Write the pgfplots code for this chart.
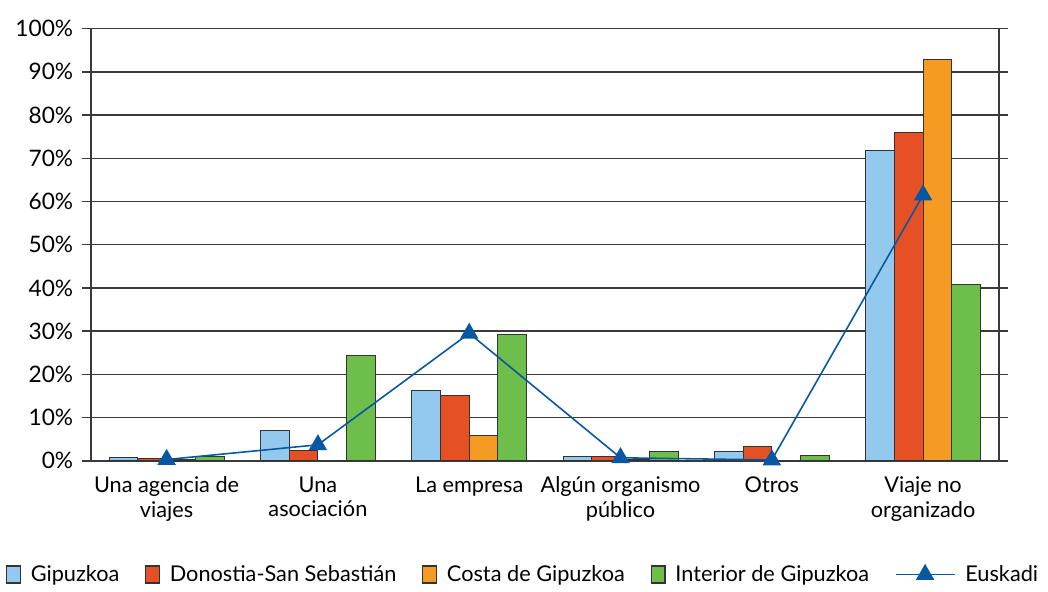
\documentclass[border=0pt]{standalone}
\usepackage{pgfplots}
\pgfplotsset{compat=1.18}
\usepackage{fontspec}
\setmainfont{Lato}

\definecolor{cgip}{HTML}{93C9EE}
\definecolor{cdon}{HTML}{E55125}
\definecolor{ccos}{HTML}{F59B23}
\definecolor{cint}{HTML}{6DBE4B}
\definecolor{ceus}{HTML}{0757A3}
\definecolor{cgrid}{HTML}{3A3A3A}

\pgfplotsset{
  barpatch/.style={legend image code/.code={
    \draw[fill=#1, draw=black!80, line width=0.6pt] (0pt,-4.3pt) rectangle (7pt,4.3pt);}},
}

\begin{document}
\begin{tikzpicture}
\begin{axis}[
    scale only axis,
    width=460pt,
    height=219pt,
    xmin=-0.5, xmax=5.5,
    ymin=0, ymax=100,
    ytick={0,10,...,100},
    yticklabel={\pgfmathprintnumber{\tick}\%},
    /pgf/number format/assume math mode=true,
    xtick={0,1,2,3,4,5},
    xticklabels={Una agencia de\\viajes, Una\\asociación, La empresa, Algún organismo\\público, Otros, Viaje no\\organizado},
    xticklabel style={align=center, font=\fontsize{11}{12.5}\selectfont},
    yticklabel style={font=\fontsize{11.5}{12}\selectfont, xshift=-1pt},
    major x tick style={draw=none},
    ytick style={draw=cgrid, line width=0.7pt},
    tick align=outside,
    major tick length=4.5pt,
    ymajorgrids,
    grid style={draw=cgrid, line width=0.7pt},
    axis line style={draw=cgrid, line width=0.8pt},
    legend style={at={(0.477,-0.222)}, anchor=north, legend columns=5, draw=none,
        font=\fontsize{11}{12}\selectfont,
        /tikz/every odd column/.append style={column sep=3pt},
        /tikz/every even column/.append style={column sep=11pt}},
    legend cell align=left,
]
\addplot[ybar, bar width=0.19, bar shift=-0.285, fill=cgip, draw=black!80, line width=0.5pt, barpatch=cgip] coordinates {
    (0,0.7) (1,7.1) (2,16.2) (3,1.0) (4,2.2) (5,71.8)
};
\addplot[ybar, bar width=0.19, bar shift=-0.095, fill=cdon, draw=black!80, line width=0.5pt, barpatch=cdon] coordinates {
    (0,0.5) (1,2.4) (2,15.2) (3,1.0) (4,3.3) (5,75.9)
};
\addplot[ybar, bar width=0.19, bar shift=0.095, fill=ccos, draw=black!80, line width=0.5pt, barpatch=ccos] coordinates {
    (0,0.3) (1,0) (2,5.8) (3,0.3) (4,0) (5,92.8)
};
\addplot[ybar, bar width=0.19, bar shift=0.285, fill=cint, draw=black!80, line width=0.5pt, barpatch=cint] coordinates {
    (0,0.9) (1,24.4) (2,29.3) (3,2.2) (4,1.3) (5,40.9)
};
\addplot[color=ceus, line width=0.8pt, mark=triangle*, mark size=4.6pt, mark options={fill=ceus, draw=ceus},
    legend image code/.code={
      \draw[color=ceus, line width=0.8pt] (0pt,0pt) -- (30pt,0pt);
      \draw[fill=ceus, draw=ceus] plot[mark=triangle*, mark size=4.6pt] coordinates {(15pt,0pt)};}
] coordinates {
    (0,0.3) (1,3.7) (2,29.5) (3,0.7) (4,0.2) (5,61.5)
};
\legend{Gipuzkoa, Donostia-San Sebastián, Costa de Gipuzkoa, Interior de Gipuzkoa, Euskadi}
\end{axis}
\path ([yshift=14.5pt]current axis.north) -- ([yshift=14.5pt]current axis.north);
\end{tikzpicture}
\end{document}
